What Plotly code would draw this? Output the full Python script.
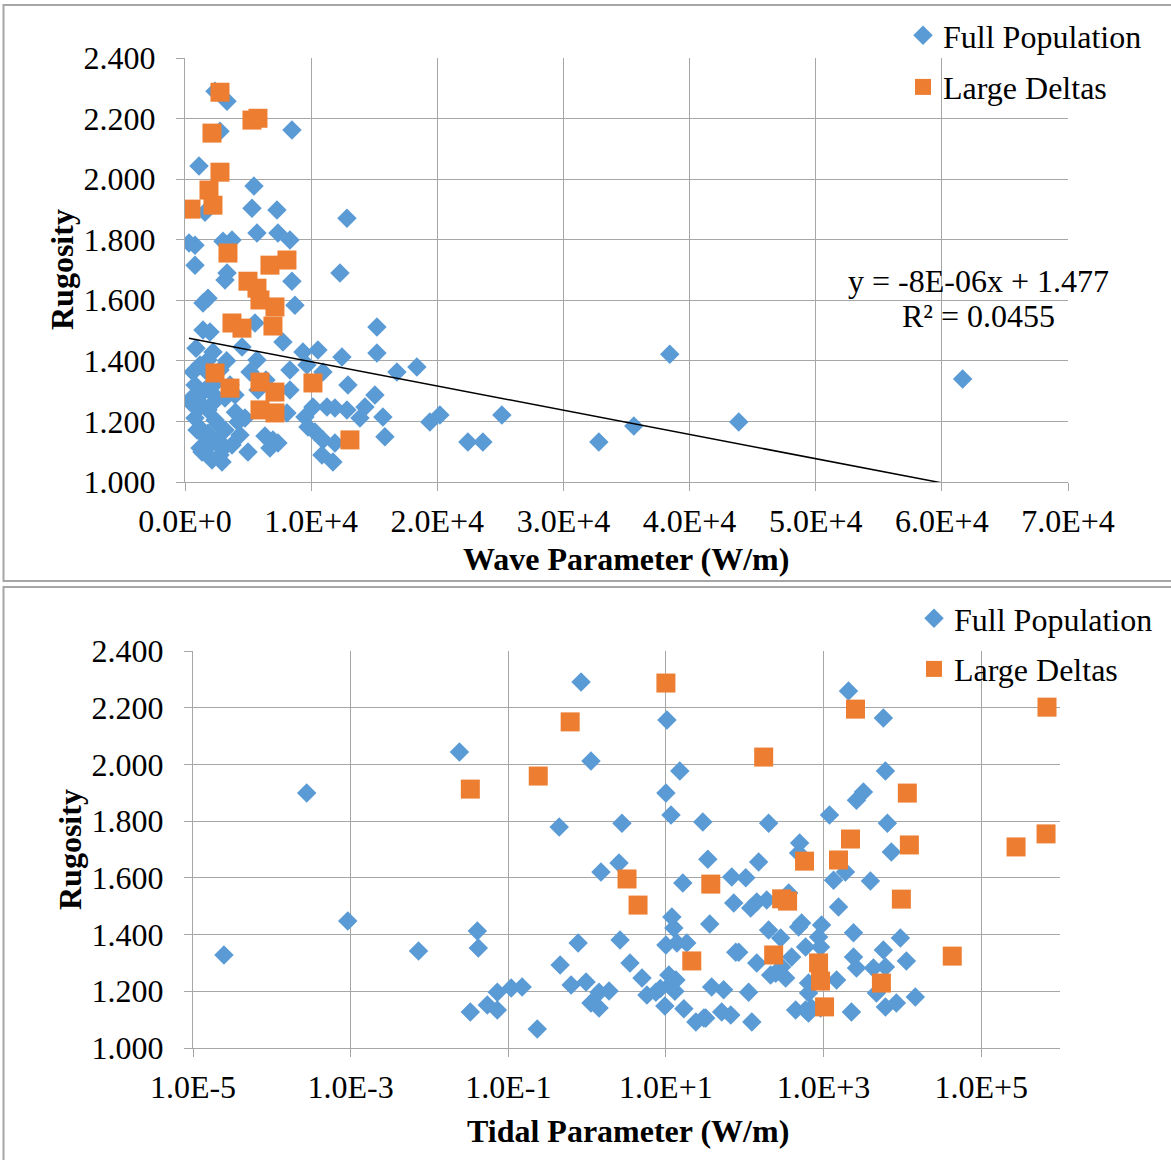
import plotly.graph_objects as go

W, H = 1171, 1160
FONT = "Liberation Serif"
BLUE = "#5B9BD5"
ORANGE = "#ED7D31"
GRID = "#A6A6A6"

# ---------------- Top chart: Wave parameter ----------------
wave_full_x = [2377, 3328, 2773, 8479, 1109, 5468, 5309, 7290, 12837, 1585,
               792, 317, 3011, 3724, 5705, 7369, 8320, 792, 3328, 3170,
               8479, 12282, 1823, 1426, 8716, 5547, 1426, 1981, 4517, 5705,
               7765, 15214, 9350, 10539, 12440, 15214, 8320, 9667, 10935, 12916,
               16799, 18384, 15055, 14263, 15689, 15848, 19413, 20206, 12837, 11886,
               11252, 10143, 9509, 9746, 10301, 10935, 11886, 10856, 11727, 13867,
               6973, 7369, 6735, 4992, 4200, 8082, 8320, 5785, 38431, 43899,
               61648, 35578, 32805, 25119, 23614, 22425, 634, 792, 1030, 1347,
               396, 792, 1189, 1585, 1981, 1347, 2139, 2773, 2615, 3170,
               2377, 1823, 3170, 3566, 2139, 1189, 1823, 2773, 3962, 1189,
               2932, 872, 2219, 4754, 3724, 4358, 2298, 951, 6339, 6418, 5151,
               1500, 2500, 1800, 3000, 2200, 600, 1600, 4000, 3300, 2600, 1000, 2000]
wave_full_y = [2.290, 2.257, 2.158, 2.162, 2.043, 1.977, 1.904, 1.898, 1.871, 1.891,
               1.782, 1.789, 1.795, 1.799, 1.822, 1.822, 1.799, 1.716, 1.690, 1.667,
               1.663, 1.690, 1.607, 1.591, 1.584, 1.525, 1.502, 1.495, 1.446, 1.403,
               1.462, 1.512, 1.429, 1.436, 1.413, 1.426, 1.370, 1.386, 1.363, 1.320,
               1.363, 1.380, 1.287, 1.248, 1.215, 1.149, 1.198, 1.221, 1.238, 1.244,
               1.248, 1.248, 1.215, 1.182, 1.165, 1.139, 1.129, 1.089, 1.066, 1.211,
               1.139, 1.129, 1.112, 1.099, 1.198, 1.228, 1.304, 1.304, 1.422, 1.198,
               1.340, 1.185, 1.132, 1.221, 1.132, 1.132, 1.363, 1.320, 1.287, 1.254,
               1.264, 1.211, 1.178, 1.149, 1.122, 1.099, 1.073, 1.089, 1.139, 1.172,
               1.205, 1.238, 1.277, 1.320, 1.353, 1.386, 1.403, 1.370, 1.287, 1.112,
               1.066, 1.442, 1.429, 1.211, 1.122, 1.155, 1.287, 1.172, 1.152, 1.337, 1.363,
               1.300, 1.330, 1.160, 1.110, 1.260, 1.280, 1.370, 1.230, 1.400, 1.190, 1.240, 1.320]

wave_large_x = [2773, 5309, 5785, 2139, 1902, 2218, 475, 2773, 3407, 6735,
                8082, 4992, 5705, 5943, 7131, 6973, 3724, 4517, 2377, 3566,
                5943, 7131, 5943, 7131, 10143, 13074]
wave_large_y = [2.287, 2.195, 2.201, 2.152, 1.964, 1.914, 1.901, 2.023, 1.756, 1.716,
                1.733, 1.663, 1.640, 1.601, 1.578, 1.515, 1.525, 1.508, 1.360, 1.310,
                1.330, 1.297, 1.238, 1.228, 1.327, 1.139]

trend_slope = -8e-06
trend_intercept = 1.477
trend_eq = "y = -8E-06x + 1.477"
trend_r2 = "R² = 0.0455"

wave_ticks = [0, 10000, 20000, 30000, 40000, 50000, 60000, 70000]
wave_ticktext = ["0.0E+0", "1.0E+4", "2.0E+4", "3.0E+4", "4.0E+4", "5.0E+4", "6.0E+4", "7.0E+4"]

# ---------------- Bottom chart: Tidal parameter ----------------
tidal_full_x = [2.47e-5, 2.77e-4, 9.2e-4, 7.26e-3, 0.024, 0.0405, 0.0417, 0.033, 0.0542, 0.0726,
                0.0726, 0.109, 0.150, 0.233, 0.443, 0.839, 1.12, 0.455, 0.627, 0.769,
                0.97, 1.12, 1.42, 1.42, 1.90, 1.50, 2.54, 2.77, 2.62, 3.50,
                4.97, 5.74, 7.46, 9.7, 10, 10.3, 10, 11.6, 15.0, 11.9,
                12.6, 13.8, 18.4, 10.9, 13.4, 16.9, 24, 30.3, 29.4, 34,
                36, 16.4, 68.4, 72.6, 77, 201, 150, 103, 119, 142,
                190, 361, 497, 483, 1191, 2071, 5740, 6095, 3206, 2616,
                6457, 7255, 1897, 1339, 3937, 1549, 527, 483, 944, 201,
                286, 84, 142, 394, 591, 916, 865, 2400, 2400, 5740,
                9440, 11250, 2620, 4290, 6100, 14600, 6100, 8400, 4690, 2260,
                247, 330, 294, 213, 112, 123, 54, 38, 66.5, 51,
                32, 442, 591, 705, 645, 645, 1462, 645, 916, 8.5, 11, 13]
tidal_full_y = [1.328, 1.899, 1.448, 1.342, 2.044, 1.413, 1.353, 1.127, 1.152, 1.134,
                1.197, 1.212, 1.215, 1.067, 1.779, 2.291, 2.012, 1.293, 1.222, 1.370,
                1.233, 1.159, 1.141, 1.197, 1.201, 1.621, 1.652, 1.793, 1.381, 1.300,
                1.247, 1.187, 1.197, 1.148, 1.363, 2.157, 1.899, 1.822, 1.977, 1.462,
                1.423, 1.370, 1.370, 1.257, 1.240, 1.138, 1.092, 1.106, 1.797, 1.666,
                1.437, 1.582, 1.603, 1.511, 1.338, 1.793, 1.656, 1.600, 1.494, 1.515,
                1.522, 1.547, 1.723, 1.688, 1.822, 2.259, 2.164, 1.977, 1.903, 1.874,
                1.793, 1.691, 1.621, 1.592, 1.589, 1.497, 1.441, 1.427, 1.434, 1.416,
                1.388, 1.338, 1.300, 1.321, 1.356, 1.356, 1.391, 1.406, 1.321, 1.346,
                1.388, 1.307, 1.282, 1.282, 1.286, 1.180, 1.145, 1.159, 1.194, 1.127,
                1.264, 1.247, 1.286, 1.257, 1.197, 1.092, 1.205, 1.215, 1.116, 1.127,
                1.106, 1.134, 1.134, 1.141, 1.229, 1.194, 1.240, 1.123, 1.141, 1.210, 1.220, 1.200]

tidal_large_x = [0.033, 0.240, 0.610, 10, 3.21, 4.43, 21.3, 37.1, 174, 233,
                 574, 294, 350, 865, 916, 1030, 1549, 2197, 2543, 5420,
                 11560, 12270, 9710, 42960, 277000, 665000, 684000]
tidal_large_y = [1.913, 1.959, 2.150, 2.287, 1.596, 1.504, 1.307, 1.578, 2.026, 1.328,
                 1.659, 1.526, 1.518, 1.300, 1.236, 1.145, 1.663, 1.737, 2.195, 1.229,
                 1.899, 1.716, 1.525, 1.324, 1.709, 1.755, 2.202]

tidal_ticks = [1e-5, 1e-3, 1e-1, 1e1, 1e3, 1e5]
tidal_ticktext = ["1.0E-5", "1.0E-3", "1.0E-1", "1.0E+1", "1.0E+3", "1.0E+5"]

rug_ticks = [1.0, 1.2, 1.4, 1.6, 1.8, 2.0, 2.2, 2.4]


def px(x):
    return x / W


def py(y):
    return 1 - y / H


fig = go.Figure()

# top traces
fig.add_trace(go.Scatter(x=wave_full_x, y=wave_full_y, mode="markers", name="Full Population",
                         marker=dict(symbol="diamond", size=15, color=BLUE, line=dict(width=0)),
                         xaxis="x", yaxis="y", legend="legend", legendgroup="a"))
fig.add_trace(go.Scatter(x=wave_large_x, y=wave_large_y, mode="markers", name="Large Deltas",
                         marker=dict(symbol="square", size=19, color=ORANGE, line=dict(width=0)),
                         xaxis="x", yaxis="y", legend="legend", legendgroup="b"))
xmin, xmax = min(wave_full_x), max(wave_full_x)
fig.add_trace(go.Scatter(x=[xmin, xmax],
                         y=[trend_slope * xmin + trend_intercept, trend_slope * xmax + trend_intercept],
                         mode="lines", line=dict(color="black", width=1.5), showlegend=False,
                         xaxis="x", yaxis="y", hoverinfo="skip"))

# bottom traces
fig.add_trace(go.Scatter(x=tidal_full_x, y=tidal_full_y, mode="markers", name="Full Population",
                         marker=dict(symbol="diamond", size=15, color=BLUE, line=dict(width=0)),
                         xaxis="x2", yaxis="y2", legend="legend2", legendgroup="c"))
fig.add_trace(go.Scatter(x=tidal_large_x, y=tidal_large_y, mode="markers", name="Large Deltas",
                         marker=dict(symbol="square", size=19, color=ORANGE, line=dict(width=0)),
                         xaxis="x2", yaxis="y2", legend="legend2", legendgroup="d"))

FS = 32
tickfont = dict(family=FONT, size=FS, color="black")
common = dict(showgrid=True, gridcolor=GRID, gridwidth=1, showline=True, linecolor=GRID, linewidth=1,
              ticks="outside", ticklen=8, tickcolor=GRID, tickwidth=1, tickfont=tickfont,
              zeroline=False, mirror=False, automargin=False)

fig.update_layout(
    template="none",
    width=W, height=H,
    margin=dict(l=0, r=0, t=0, b=0, autoexpand=False),
    paper_bgcolor="white", plot_bgcolor="white",
    font=dict(family=FONT, size=FS, color="black"),
    xaxis=dict(domain=[px(185), px(1068)], anchor="y", range=[0, 70000],
               tickvals=wave_ticks, ticktext=wave_ticktext, ticklabelstandoff=3, **common),
    yaxis=dict(domain=[py(482), py(58)], anchor="x", range=[1.0, 2.4],
               tickvals=rug_ticks, tickformat=".3f", ticklabelstandoff=14, **common),
    xaxis2=dict(domain=[px(193), px(1060)], anchor="y2", type="log", range=[-5, 6],
                tickvals=tidal_ticks, ticktext=tidal_ticktext, ticklabelstandoff=3, **common),
    yaxis2=dict(domain=[py(1048), py(651)], anchor="x2", range=[1.0, 2.4],
                tickvals=rug_ticks, tickformat=".3f", ticklabelstandoff=14, **common),
    legend=dict(x=px(903), y=py(8), xanchor="left", yanchor="top", bgcolor="rgba(0,0,0,0)",
                font=dict(family=FONT, size=FS), tracegroupgap=7, itemsizing="trace"),
    legend2=dict(x=px(914), y=py(591), xanchor="left", yanchor="top", bgcolor="rgba(0,0,0,0)",
                 font=dict(family=FONT, size=FS), tracegroupgap=6, itemsizing="trace"),
    showlegend=True,
)

title_font = dict(family=FONT, size=FS, color="black")
annots = [
    dict(text="<b>Rugosity</b>", x=px(62), y=py(270), textangle=-90),
    dict(text="<b>Rugosity</b>", x=px(70), y=py(850), textangle=-90),
    dict(text="<b>Wave Parameter (W/m)</b>", x=px(626), y=py(559)),
    dict(text="<b>Tidal Parameter (W/m)</b>", x=px(628), y=py(1131)),
    dict(text=trend_eq, x=px(978), y=py(281)),
    dict(text=trend_r2, x=px(978), y=py(316)),
]
for a in annots:
    fig.add_annotation(xref="paper", yref="paper", xanchor="center", yanchor="middle",
                       showarrow=False, font=title_font, **a)

frame = dict(type="rect", xref="paper", yref="paper", line=dict(color="#A6A6A6", width=2),
             fillcolor="rgba(0,0,0,0)", layer="below")
fig.add_shape(x0=px(3.5), x1=px(1180), y0=py(581), y1=py(5), **frame)
fig.add_shape(x0=px(3.5), x1=px(1180), y0=py(1170), y1=py(587), **frame)

fig.write_html("out.html")
